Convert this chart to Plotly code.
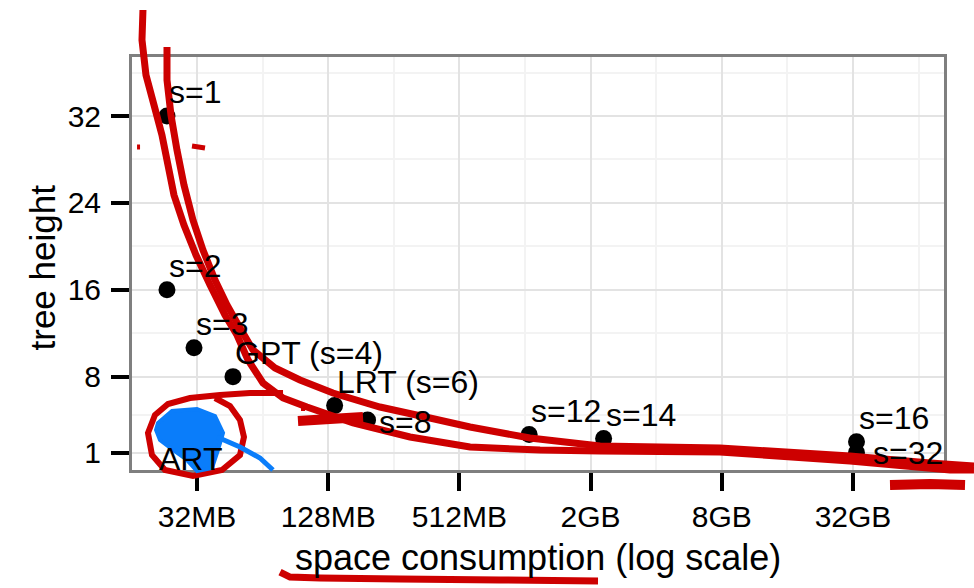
import math
import plotly.graph_objects as go

# ---- data ----
labels = ["ART", "s=1", "s=2", "s=3", "GPT (s=4)", "LRT (s=6)", "s=8", "s=12", "s=14", "s=16", "s=32"]
space_mb = [29.7, 23.3, 23.3, 31, 46.8, 137, 194, 1070, 2350, 34000, 34000]
tree_height = [4, 32, 16, 10.67, 8, 5.33, 4, 2.67, 2.29, 2, 1]

x_tick_vals = [32, 128, 512, 2048, 8192, 32768]
x_tick_text = ["32MB", "128MB", "512MB", "2GB", "8GB", "32GB"]
x_minor_vals = [16, 64, 256, 1024, 4096, 16384, 65536]
y_tick_vals = [1, 8, 16, 24, 32]
y_minor_vals = [4.5, 12, 20, 28, 36]

# label placement (style): xanchor, yanchor, xshift, yshift
label_pos = {
    "ART": ("center", "middle", 1, -39),
    "s=8": ("left", "middle", 9, -2),
    "s=32": ("left", "middle", 14, 0),
}
default_pos = ("left", "middle", 0, 24)

FONT = "Liberation Sans, Arial, sans-serif"
W, H = 974, 588
L, R, T, B = 132, 30, 57, 118
PW, PH = W - L - R, H - T - B

fig = go.Figure()
fig.add_trace(go.Scatter(
    x=space_mb, y=tree_height, mode="markers",
    marker=dict(color="black", size=17),
    hoverinfo="skip", showlegend=False))

for lab, xv, yv in zip(labels, space_mb, tree_height):
    xa, ya, xs, ys = label_pos.get(lab, default_pos)
    fig.add_annotation(x=math.log10(xv), y=yv, xref="x", yref="y", text=lab, showarrow=False,
                       xanchor=xa, yanchor=ya, xshift=xs, yshift=ys,
                       font=dict(family=FONT, size=32, color="black"))

# axis titles
fig.add_annotation(x=0.5, y=0, xref="paper", yref="paper", text="space consumption (log scale)",
                   showarrow=False, xanchor="center", yanchor="middle", yshift=-87,
                   font=dict(family=FONT, size=36, color="black"))
fig.add_annotation(x=0, y=0.5, xref="paper", yref="paper", text="tree height", textangle=-90,
                   showarrow=False, xanchor="center", yanchor="middle", xshift=-90, yshift=-4,
                   font=dict(family=FONT, size=35, color="black"))

# ---- hand-drawn overlay strokes (pixel space of the page) ----
def to_paper(pts):
    out = []
    for i, (px, py) in enumerate(pts):
        xp = (px - L) / PW
        yp = (H - B - py) / PH
        out.append(("M" if i == 0 else "L") + f"{xp:.4f},{yp:.4f}")
    return " ".join(out)

RED = "rgb(205,0,0)"
BLUE = "rgb(10,125,250)"
red_strokes = [
    ([(167, 47), (167, 80), (171, 115), (177, 150), (184, 185), (193, 220), (203, 250), (215, 280),
      (227, 305), (240, 328), (253, 350), (275, 368), (300, 380), (333, 393), (380, 407), (430, 418),
      (470, 427), (530, 438), (600, 446), (720, 448), (850, 456), (930, 463), (974, 466)], 7),
    ([(143, 10), (142, 40), (146, 75), (154, 105), (162, 135), (168, 165), (174, 195), (184, 225),
      (196, 255), (210, 285), (225, 315), (237, 335), (248, 360), (263, 383), (283, 398), (307, 407),
      (353, 423), (410, 437), (470, 447), (540, 450), (600, 451), (720, 452), (850, 461), (950, 470),
      (974, 470)], 7),
    ([(283, 393), (250, 393), (220, 395), (190, 398), (168, 404), (155, 415), (148, 433), (152, 455),
      (165, 470), (193, 476), (222, 470), (240, 455), (244, 437), (240, 420), (230, 406), (215, 398)], 6),
    ([(298, 421), (330, 419), (363, 417)], 10),
    ([(301, 408), (305, 408)], 6),
    ([(137, 147), (140, 147)], 5),
    ([(192, 146), (205, 148)], 5),
    ([(280, 572), (290, 577), (320, 578), (400, 579), (500, 580), (598, 581)], 7),
    ([(890, 485), (930, 484), (965, 485)], 10),
]
for pts, w in red_strokes:
    fig.add_shape(type="path", xref="paper", yref="paper", path=to_paper(pts),
                  line=dict(color=RED, width=w), layer="above")

blob = [(158, 423), (172, 411), (197, 409), (215, 416), (223, 433), (218, 450), (212, 468),
        (197, 471), (186, 459), (172, 449), (160, 440), (156, 430)]
fig.add_shape(type="path", xref="paper", yref="paper", path=to_paper(blob) + " Z",
              line=dict(color=BLUE, width=4), fillcolor=BLUE, layer="above")
fig.add_shape(type="path", xref="paper", yref="paper",
              path=to_paper([(217, 437), (240, 447), (260, 458), (273, 470)]),
              line=dict(color=BLUE, width=5), layer="above")

axis_common = dict(
    showline=True, linecolor="#7f7f7f", linewidth=3, mirror=True,
    ticks="outside", ticklen=18, tickwidth=4, tickcolor="black",
    showgrid=True, gridcolor="#e3e3e3", gridwidth=1.5, zeroline=False,
    tickfont=dict(family=FONT, size=30, color="black"),
)
fig.update_xaxes(type="log", range=[1.2069, 4.933], tickmode="array",
                 tickvals=x_tick_vals, ticktext=x_tick_text, ticklabelstandoff=0,
                 minor=dict(tickmode="array", tickvals=x_minor_vals, showgrid=True,
                            gridcolor="#f3f3f3", gridwidth=1.5, ticks=""),
                 **axis_common)
fig.update_yaxes(range=[-0.6, 37.44], tickmode="array", tickvals=y_tick_vals,
                 ticktext=[str(v) for v in y_tick_vals], ticklabelstandoff=4,
                 minor=dict(tickmode="array", tickvals=y_minor_vals, showgrid=True,
                            gridcolor="#f3f3f3", gridwidth=1.5, ticks=""),
                 **axis_common)

fig.update_layout(width=W, height=H, margin=dict(l=L, r=R, t=T, b=B),
                  paper_bgcolor="white", plot_bgcolor="white",
                  font=dict(family=FONT, color="black"))
fig.write_html("out.html", config={"displayModeBar": False},
               post_script="document.body.style.margin='0';")
